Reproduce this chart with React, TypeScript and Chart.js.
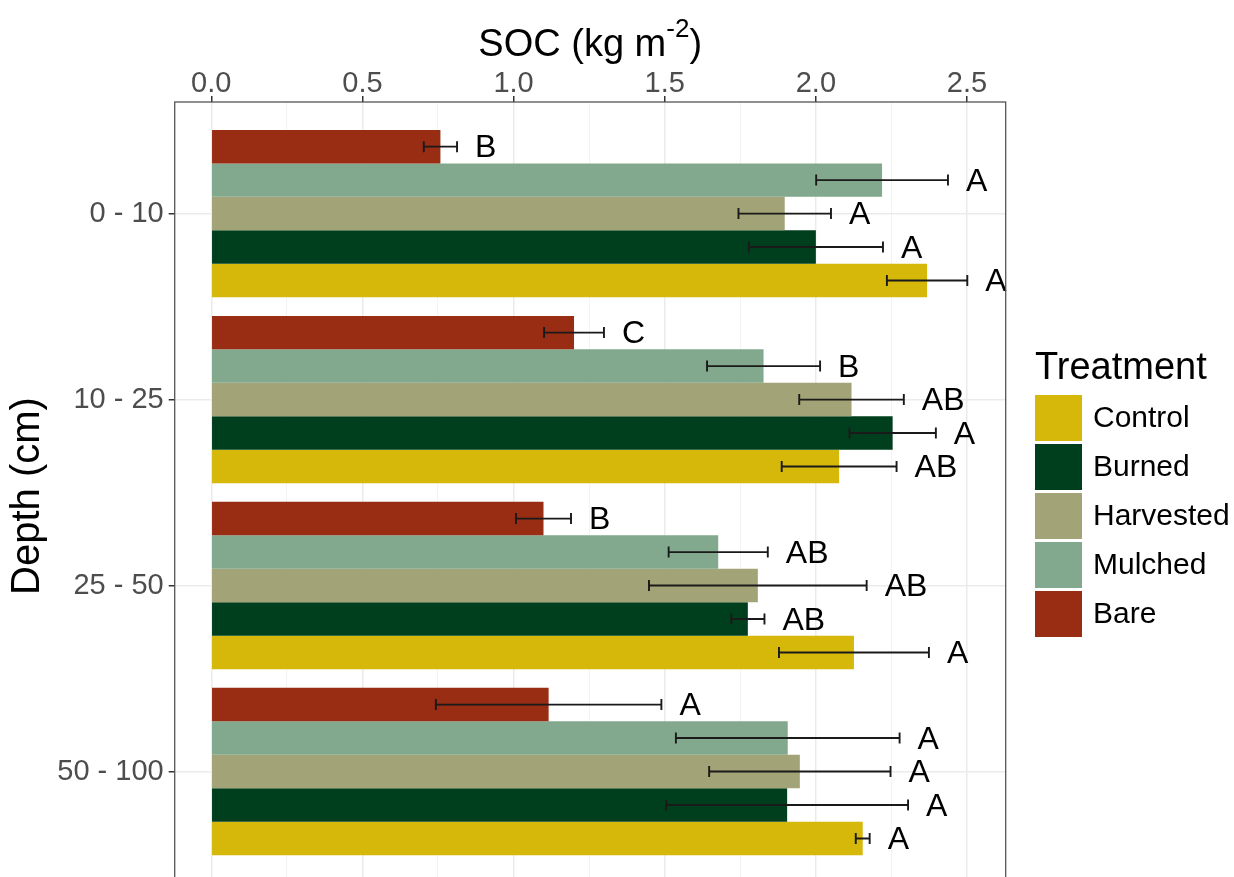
import { useEffect, useRef } from 'react';
import { Chart, registerables } from 'chart.js';

Chart.register(...registerables);

// Depth intervals (cm), top to bottom
const depthLabels = ['0 - 10', '10 - 25', '25 - 50', '50 - 100'];

// Soil organic carbon (kg m-2) means, standard errors and significance letters
const bareSOC = [0.758, 1.2, 1.099, 1.116];
const bareSE = [0.055, 0.099, 0.091, 0.373];
const bareLetters = ['B', 'C', 'B', 'A'];

const mulchedSOC = [2.219, 1.827, 1.677, 1.907];
const mulchedSE = [0.218, 0.187, 0.164, 0.37];
const mulchedLetters = ['A', 'B', 'AB', 'A'];

const harvestedSOC = [1.897, 2.118, 1.808, 1.947];
const harvestedSE = [0.153, 0.173, 0.36, 0.3];
const harvestedLetters = ['A', 'AB', 'AB', 'A'];

const burnedSOC = [2.0, 2.254, 1.775, 1.905];
const burnedSE = [0.222, 0.143, 0.055, 0.4];
const burnedLetters = ['A', 'A', 'AB', 'A'];

const controlSOC = [2.368, 2.077, 2.126, 2.155];
const controlSE = [0.133, 0.19, 0.248, 0.023];
const controlLetters = ['A', 'AB', 'A', 'A'];

// Ticks on the SOC axis (major every 0.5, minor grid every 0.25)
const socTicks = [0, 0.25, 0.5, 0.75, 1, 1.25, 1.5, 1.75, 2, 2.25, 2.5];

// Drawn top-to-bottom inside each depth group
const series = [
  { name: 'Bare', color: '#982D14', values: bareSOC, se: bareSE, letters: bareLetters },
  { name: 'Mulched', color: '#82A98E', values: mulchedSOC, se: mulchedSE, letters: mulchedLetters },
  { name: 'Harvested', color: '#A2A376', values: harvestedSOC, se: harvestedSE, letters: harvestedLetters },
  { name: 'Burned', color: '#003F1E', values: burnedSOC, se: burnedSE, letters: burnedLetters },
  { name: 'Control', color: '#D6B80A', values: controlSOC, se: controlSE, letters: controlLetters },
];

// Legend lists the treatments in reverse of the drawing order
const legendOrder = ['Control', 'Burned', 'Harvested', 'Mulched', 'Bare'];

const FONT = '"Liberation Sans", Arial, Helvetica, sans-serif';
const PANEL_LEFT = 174.7;
const PANEL_RIGHT = 1005.7;
const PANEL_TOP = 102;

const isMajor = (v: number) => Math.abs(v * 2 - Math.round(v * 2)) < 1e-6;

const overlayPlugin = {
  id: 'socOverlay',
  afterDatasetsDraw(chart: any) {
    const ctx = chart.ctx;
    const xs = chart.scales.x;
    ctx.save();
    series.forEach((s, di) => {
      const meta = chart.getDatasetMeta(di);
      s.values.forEach((v, j) => {
        const el = meta.data[j];
        if (!el) return;
        const y = el.y;
        const lo = xs.getPixelForValue(v - s.se[j]);
        const hi = xs.getPixelForValue(v + s.se[j]);
        ctx.strokeStyle = '#1a1a1a';
        ctx.lineWidth = 1.9;
        ctx.beginPath();
        ctx.moveTo(lo, y);
        ctx.lineTo(hi, y);
        ctx.moveTo(lo, y - 5.5);
        ctx.lineTo(lo, y + 5.5);
        ctx.moveTo(hi, y - 5.5);
        ctx.lineTo(hi, y + 5.5);
        ctx.stroke();
        ctx.fillStyle = '#000';
        ctx.font = `32px ${FONT}`;
        ctx.textAlign = 'left';
        ctx.textBaseline = 'middle';
        ctx.fillText(s.letters[j], hi + 18, y + 2);
      });
    });
    ctx.restore();
  },
  afterDraw(chart: any) {
    const ctx = chart.ctx;
    const area = chart.chartArea;
    ctx.save();
    // panel border (open at the bottom edge of the page)
    ctx.strokeStyle = '#555555';
    ctx.lineWidth = 1.3;
    ctx.strokeRect(area.left, area.top, area.right - area.left, area.bottom - area.top + 20);

    // SOC axis title with superscript unit
    const main = 'SOC (kg m';
    const sup = '-2';
    const close = ')';
    ctx.fillStyle = '#000';
    ctx.textBaseline = 'alphabetic';
    ctx.textAlign = 'left';
    ctx.font = `38px ${FONT}`;
    const wMain = ctx.measureText(main).width;
    const wClose = ctx.measureText(close).width;
    ctx.font = `26px ${FONT}`;
    const wSup = ctx.measureText(sup).width;
    const total = wMain + wSup + wClose;
    let x = (area.left + area.right) / 2 - total / 2;
    const base = 56;
    ctx.font = `38px ${FONT}`;
    ctx.fillText(main, x, base);
    x += wMain;
    ctx.font = `26px ${FONT}`;
    ctx.fillText(sup, x, base - 19);
    x += wSup;
    ctx.font = `38px ${FONT}`;
    ctx.fillText(close, x, base);

    // depth axis title
    ctx.save();
    ctx.translate(28, 496);
    ctx.rotate(-Math.PI / 2);
    ctx.font = `40px ${FONT}`;
    ctx.textAlign = 'center';
    ctx.textBaseline = 'middle';
    ctx.fillText('Depth (cm)', 0, 0);
    ctx.restore();

    // legend
    ctx.textAlign = 'left';
    ctx.textBaseline = 'alphabetic';
    ctx.font = `38px ${FONT}`;
    ctx.fillText('Treatment', 1035, 379);
    legendOrder.forEach((name, i) => {
      const s = series.find((d) => d.name === name)!;
      const top = 395 + i * 49;
      ctx.fillStyle = s.color;
      ctx.fillRect(1035, top, 47, 46);
      ctx.fillStyle = '#000';
      ctx.font = `30px ${FONT}`;
      ctx.textBaseline = 'middle';
      ctx.fillText(name, 1093, top + 24);
      ctx.textBaseline = 'alphabetic';
    });
    ctx.restore();
  },
};

export default function App() {
  const canvasRef = useRef<HTMLCanvasElement | null>(null);

  useEffect(() => {
    if (!canvasRef.current) return;
    const chart = new Chart(canvasRef.current, {
      type: 'bar',
      data: {
        datasets: series.map((s) => ({
          label: s.name,
          data: s.values.map((v, i) => ({ x: v, y: i })),
          backgroundColor: s.color,
          borderWidth: 0,
          categoryPercentage: 0.9,
          barPercentage: 1.0,
        })),
      },
      options: {
        indexAxis: 'y',
        animation: false,
        responsive: true,
        maintainAspectRatio: false,
        layout: { padding: { left: 0, right: 1234 - PANEL_RIGHT, top: 0, bottom: 0 } },
        plugins: {
          legend: { display: false },
          tooltip: { enabled: false },
        },
        scales: {
          x: {
            type: 'linear',
            position: 'top',
            min: -0.121,
            max: 2.628,
            offset: false,
            afterBuildTicks: (scale: any) => {
              scale.ticks = socTicks.map((v) => ({ value: v }));
            },
            afterFit: (scale: any) => {
              scale.height = PANEL_TOP;
              scale.paddingLeft = 0;
              scale.paddingRight = 0;
            },
            ticks: {
              autoSkip: false,
              maxRotation: 0,
              padding: -5,
              color: '#4d4d4d',
              font: { family: FONT, size: 29 },
              callback: (v: any) => (isMajor(Number(v)) ? Number(v).toFixed(1) : ''),
            },
            grid: {
              offset: false,
              tickLength: 6,
              color: (c: any) => (c.tick && isMajor(c.tick.value) ? '#ebebeb' : '#f3f3f3'),
              lineWidth: (c: any) => (c.tick && isMajor(c.tick.value) ? 1.5 : 1),
              tickColor: (c: any) => (c.tick && isMajor(c.tick.value) ? '#333333' : 'rgba(0,0,0,0)'),
            },
            border: { display: false },
          },
          y: {
            type: 'linear',
            min: -0.6,
            max: 3.567,
            reverse: true,
            offset: false,
            afterBuildTicks: (scale: any) => {
              scale.ticks = depthLabels.map((_, i) => ({ value: i }));
            },
            afterFit: (scale: any) => {
              scale.width = PANEL_LEFT;
              scale.paddingTop = 0;
              scale.paddingBottom = 0;
            },
            ticks: {
              autoSkip: false,
              padding: 5,
              color: '#4d4d4d',
              font: { family: FONT, size: 29 },
              callback: (v: any) => depthLabels[Number(v)] ?? '',
            },
            grid: {
              offset: false,
              tickLength: 6,
              color: '#ebebeb',
              lineWidth: 1.5,
              tickColor: '#333333',
            },
            border: { display: false },
          },
        },
      },
      plugins: [overlayPlugin],
    } as any);
    return () => chart.destroy();
  }, []);

  return (
    <div style={{ position: 'absolute', left: 0, top: 0, width: 1234, height: 877, background: '#fff', overflow: 'hidden' }}>
      <canvas ref={canvasRef} />
    </div>
  );
}
